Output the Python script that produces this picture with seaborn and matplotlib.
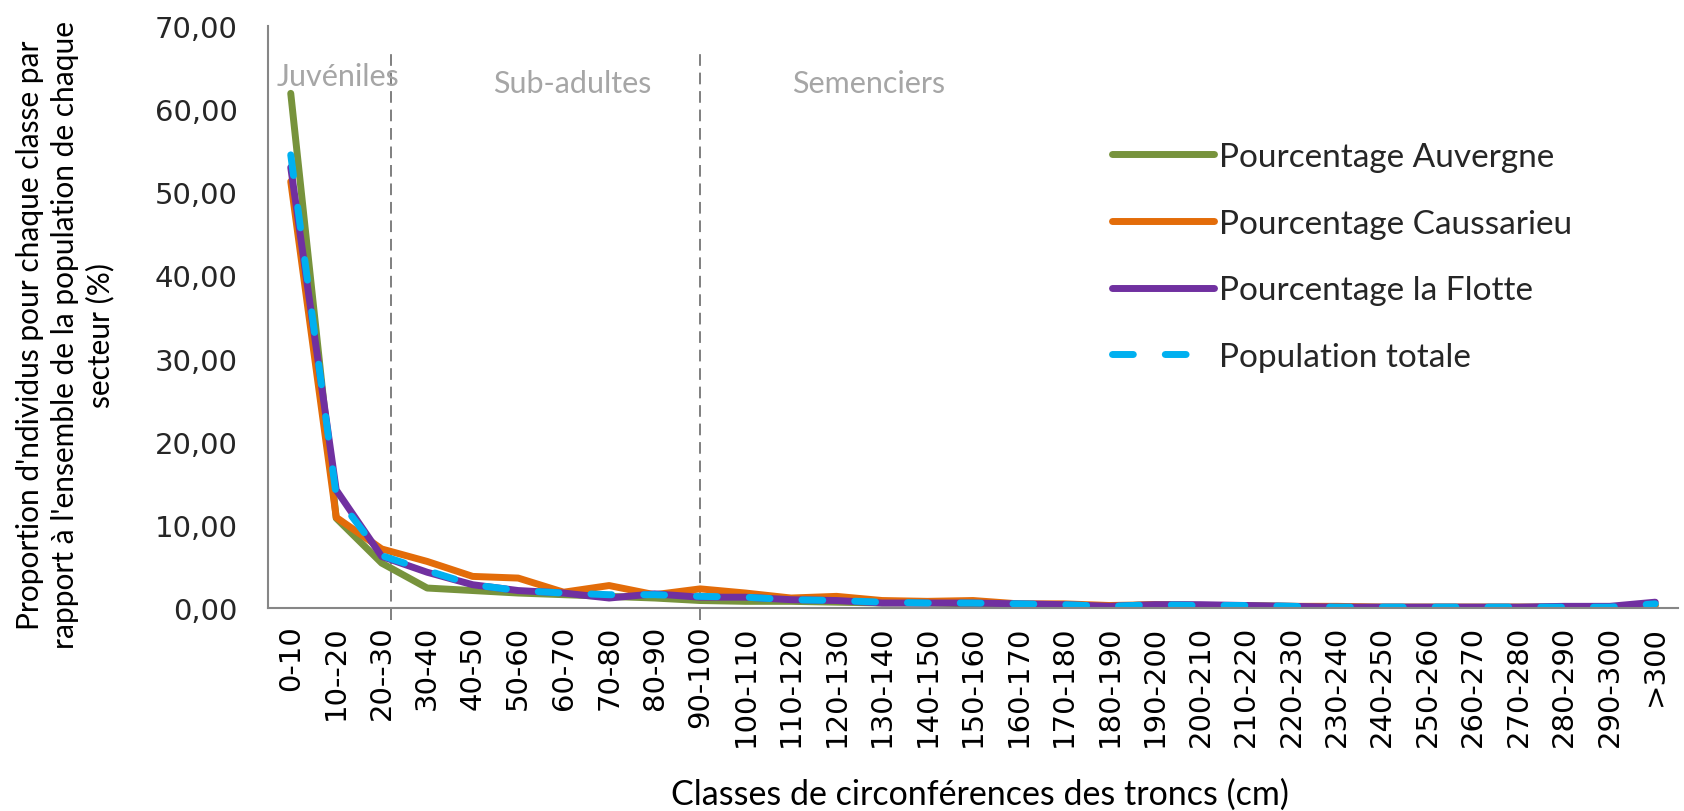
import numpy as np
import pandas as pd
import matplotlib
matplotlib.use('Agg')
import matplotlib.pyplot as plt
import seaborn as sns

# classes de circonférence (cm)
classes = ['0-10', '10--20', '20--30'] + [f'{a}-{a + 10}' for a in range(30, 300, 10)] + ['>300']

auvergne = [61.9, 10.8, 5.4, 2.4, 2.1, 1.8, 1.6, 1.4, 1.2, 0.9, 0.8, 0.8, 0.7, 0.6, 0.6, 0.5,
            0.4, 0.4, 0.2, 0.4, 0.3, 0.3, 0.2, 0.1, 0.1, 0.1, 0.1, 0.1, 0.1, 0.1, 0.4]
caussarieu = [51.3, 10.9, 7.1, 5.6, 3.8, 3.6, 1.9, 2.7, 1.6, 2.3, 1.8, 1.2, 1.4, 0.9, 0.8, 0.9,
              0.5, 0.5, 0.3, 0.4, 0.3, 0.2, 0.2, 0.2, 0.1, 0.1, 0.1, 0.1, 0.1, 0.1, 0.3]
la_flotte = [53.0, 14.2, 6.2, 4.3, 2.8, 2.1, 1.8, 1.2, 1.7, 1.3, 1.3, 1.0, 0.9, 0.6, 0.6, 0.6,
             0.5, 0.4, 0.2, 0.4, 0.4, 0.3, 0.2, 0.1, 0.1, 0.1, 0.1, 0.1, 0.2, 0.2, 0.7]
totale = [54.5, 13.5, 6.3, 4.5, 2.8, 2.1, 1.8, 1.6, 1.6, 1.4, 1.3, 1.0, 0.9, 0.7, 0.6, 0.6,
          0.5, 0.4, 0.2, 0.4, 0.3, 0.3, 0.2, 0.1, 0.1, 0.1, 0.1, 0.1, 0.1, 0.1, 0.5]

series = {
    'Pourcentage Auvergne': auvergne,
    'Pourcentage Caussarieu': caussarieu,
    'Pourcentage la Flotte': la_flotte,
    'Population totale': totale,
}
couleurs = ['#77933C', '#E36C09', '#7030A0', '#00B0F0']

# limites des stades (position sur l'axe des classes)
limites = [2.2, 9.0]
stades = ['Juvéniles', 'Sub-adultes', 'Semenciers']
stades_x = [1.03, 6.2, 12.7]
stades_y = [64.0, 63.2, 63.2]

rows = []
for nom, vals in series.items():
    for i, v in enumerate(vals):
        rows.append({'pos': i, 'valeur': v, 'serie': nom})
df = pd.DataFrame(rows)

sns.set_style('white')
plt.rcParams['font.family'] = ['Lato', 'DejaVu Sans']

fig = plt.figure(figsize=(16.84, 8.12), dpi=100)
ax = fig.add_axes([268 / 1684, 1 - 609 / 812, (1678 - 268) / 1684, (609 - 27) / 812])

sns.lineplot(data=df, x='pos', y='valeur', hue='serie', style='serie',
             palette=couleurs,
             dashes={'Pourcentage Auvergne': '', 'Pourcentage Caussarieu': '',
                     'Pourcentage la Flotte': '', 'Population totale': (3.0, 4.6)},
             linewidth=5, sort=False, ax=ax, legend=True)
for ln in ax.lines:
    ln.set_dash_capstyle('round')
    ln.set_solid_capstyle('round')

gris = '#868686'
for xl in limites:
    ax.plot([xl, xl], [-1.4, 67], color='#7F7F7F', lw=1.4, dashes=(6, 3.5), clip_on=False, zorder=1)

for txt, xs, ys in zip(stades, stades_x, stades_y):
    ax.text(xs, ys, txt, ha='center', va='center', fontsize=22, color='#A6A6A6')

ax.set_xlim(-0.5, len(classes) - 0.5)
ax.set_ylim(0, 70)
ax.set_yticks(np.arange(0, 71, 10))
ax.set_yticklabels([f'{v:.2f}'.replace('.', ',') for v in np.arange(0, 71, 10)],
                   fontsize=21, family='DejaVu Sans', color='#262626')
ax.set_xticks(range(len(classes)))
ax.set_xticklabels(classes, rotation=90, fontsize=21, family='DejaVu Sans', color='black')
ax.set_xticks(np.arange(-0.5, len(classes) - 0.4, 1), minor=True)
ax.tick_params(axis='x', which='major', length=0, pad=12)
ax.tick_params(axis='x', which='minor', length=8, width=1.5, color=gris, direction='out')
ax.tick_params(axis='y', length=8, width=1.5, color=gris, direction='out', pad=14)
ax.set_xlabel('')
ax.set_ylabel('')
for s in ['top', 'right']:
    ax.spines[s].set_visible(False)
for s in ['left', 'bottom']:
    ax.spines[s].set_color(gris)
    ax.spines[s].set_linewidth(1.5)

fig.text(65 / 1684, 1 - 335 / 812,
         "Proportion d'ndividus pour chaque classe par\n"
         "rapport à l'ensemble de la population de chaque\n"
         "secteur (%)",
         rotation=90, ha='center', va='center', multialignment='center',
         fontsize=21.5, linespacing=1.3, color='black')
fig.text(980 / 1684, 1 - 795 / 812, 'Classes de circonférences des troncs (cm)',
         ha='center', va='center', fontsize=24.5, color='black')

handles, labels = ax.get_legend_handles_labels()
ax.legend(handles, labels, loc='upper left', bbox_to_anchor=(1112 / 1684, 1 - 143 / 812),
          bbox_transform=fig.transFigure, frameon=False, fontsize=24,
          handlelength=3.05, handletextpad=0.17, labelspacing=1.1,
          borderpad=0, borderaxespad=0)

fig.savefig('out.png', dpi=100)
